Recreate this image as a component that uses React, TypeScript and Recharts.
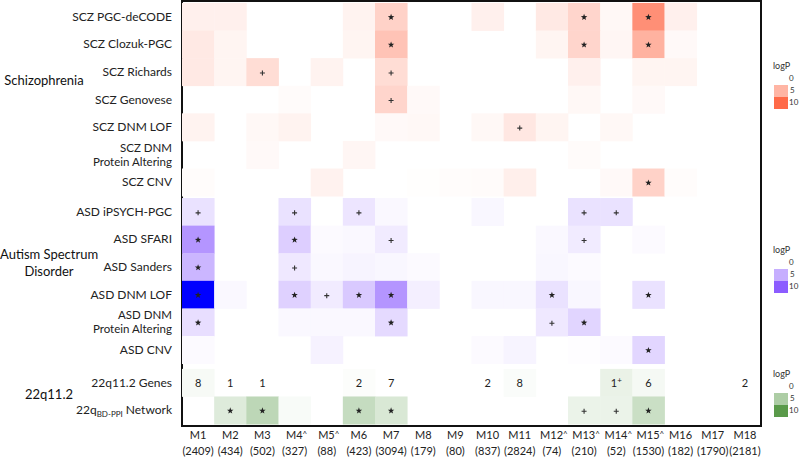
import React from "react";
import { ReferenceArea, Scatter, ScatterChart, XAxis, YAxis } from "recharts";

const FONT = "Lato, 'Liberation Sans', sans-serif";

// modules along the bottom
const modules = ["M1", "M2", "M3", "M4", "M5", "M6", "M7", "M8", "M9", "M10", "M11", "M12", "M13", "M14", "M15", "M16", "M17", "M18"];
const moduleCaret = [false, false, false, true, true, false, false, false, false, false, false, true, true, true, true, false, false, false];
const moduleSizes = [2409, 434, 502, 327, 88, 423, 3094, 179, 80, 837, 2824, 74, 210, 52, 1530, 182, 1790, 2181];

// gene sets (rows)
const rowLabels = [
  "SCZ PGC-deCODE",
  "SCZ Clozuk-PGC",
  "SCZ Richards",
  "SCZ Genovese",
  "SCZ DNM LOF",
  "SCZ DNM\nProtein Altering",
  "SCZ CNV",
  "ASD iPSYCH-PGC",
  "ASD SFARI",
  "ASD Sanders",
  "ASD DNM LOF",
  "ASD DNM\nProtein Altering",
  "ASD CNV",
  "22q11.2 Genes",
  "22qBD-PPI Network",
];
const rowGroups = ["scz", "scz", "scz", "scz", "scz", "scz", "scz", "asd", "asd", "asd", "asd", "asd", "asd", "q22", "q22"];
const groupNames = ["Schizophrenia", "Autism Spectrum\nDisorder", "22q11.2"];

// logP per module
const sczPgcDecode = [1, 1, 0, 0, 0, 0.8, 3, 0, 0, 1, 0, 1.5, 2.8, 0.5, 7.5, 1, 0, 0];
const sczClozuk = [1.5, 0.7, 0, 0, 0, 0.7, 4, 0, 0, 0, 0, 0.7, 2.8, 0.6, 5.2, 0.4, 0, 0];
const sczRichards = [1.5, 0.7, 2.3, 0, 0.8, 0, 2.3, 0, 0, 0, 0, 0, 1, 0, 0.7, 0.7, 0, 0];
const sczGenovese = [0, 0, 0, 0.3, 0, 0, 2.8, 0.4, 0, 0, 0, 0, 0.5, 0, 0.4, 0, 0, 0];
const sczDnmLof = [0.8, 0, 0.5, 0.8, 0, 0, 0.4, 0.5, 0, 0.5, 1.6, 0.7, 0, 0.5, 0, 0, 0, 0];
const sczDnmPa = [0, 0, 0.4, 0, 0, 0.6, 0, 0, 0, 0, 0, 0, 0.3, 0, 0, 0, 0, 0];
const sczCnv = [0.2, 0, 0, 0, 0.9, 0, 0, 0.1, 0.2, 0.3, 1.1, 0, 0, 0.4, 3, 0.2, 0, 0];
const asdIpsych = [1.8, 0, 0, 1.8, 0, 1.6, 0.4, 0, 0, 0.5, 0, 0, 1.8, 1.8, 0, 0, 0, 0];
const asdSfari = [6.5, 0, 0, 3, 0.3, 0.4, 1.2, 0, 0, 0, 0, 0.4, 1.2, 0, 0.3, 0, 0, 0];
const asdSanders = [4.5, 0, 0, 1.4, 0.4, 0.7, 0.5, 0.3, 0, 0, 0, 0.5, 0.3, 0, 0, 0, 0, 0];
const asdDnmLof = [14, 0.4, 0, 2.8, 1.2, 3.3, 6.5, 1, 0, 0.5, 0.5, 1.8, 0.5, 0, 1.8, 0, 0, 0];
const asdDnmPa = [2, 0, 0, 0.4, 0.4, 0.4, 2.3, 0, 0, 0, 0, 1.4, 2.6, 0, 0, 0, 0, 0];
const asdCnv = [0.3, 0, 0, 0, 0.8, 0, 0, 0, 0, 0.3, 0.7, 0, 0.1, 0.3, 2.5, 0, 0, 0];
const q22Genes = [0.5, 0, 0, 0, 0, 0.2, 0, 0, 0, 0, 0.3, 0, 0, 1.3, 0.6, 0, 0, 0];
const q22Network = [0, 2, 4, 0.4, 0, 3.5, 2.3, 0, 0, 0, 0, 0, 1.2, 1.2, 3.2, 0, 0, 0];

// significance marks: * or +
const rowMarks = [
  "......*.....*.*...",
  "......*.....*.*...",
  "..+...+...........",
  "......+...........",
  "..........+.......",
  "..................",
  "..............*...",
  "+..+.+......++....",
  "*..*..+.....+.....",
  "*..+..............",
  "*..*+**....*..*...",
  "*.....*....+*.....",
  "..............*...",
  "..................",
  ".**..**.....++*...",
];
const geneCounts = ["8", "1", "1", "", "", "2", "7", "", "", "2", "8", "", "", "1+", "6", "", "", "2"];

const rowValues = [
  sczPgcDecode, sczClozuk, sczRichards, sczGenovese, sczDnmLof, sczDnmPa, sczCnv,
  asdIpsych, asdSfari, asdSanders, asdDnmLof, asdDnmPa, asdCnv,
  q22Genes, q22Network,
];

const W = 800;
const H = 457;
const M = { top: 1, right: 39, bottom: 0, left: 0 };
const Y_AXIS_W = 182;
const X_AXIS_H = 31;
const Y_MAX = 15.4;
const CELL_W = (W - Y_AXIS_W - M.right) / modules.length;
const CELL_H = (H - M.top - X_AXIS_H) / Y_MAX;

const groupOffset: Record<string, number> = { scz: 0.07, asd: 0.14, q22: 0.33 };
const rowY = (i: number) => groupOffset[rowGroups[i]] + i + 0.5;

const ends: Record<string, string> = { scz: "#ff6a48", asd: "#8c5cff", q22: "#5a9a4a" };

const hex = (c: string) => [1, 3, 5].map((k) => parseInt(c.slice(k, k + 2), 16));
const mix = (a: string, b: string, t: number) => {
  const A = hex(a);
  const B = hex(b);
  return "rgb(" + A.map((v, k) => Math.round(v + (B[k] - v) * t)).join(",") + ")";
};
const cellColor = (group: string, v: number) => {
  if (v > 10) return mix(ends[group], "#0000ff", Math.min(1, (v - 10) / 4));
  return mix("#ffffff", ends[group], v / 10);
};

const cells = rowValues.flatMap((vals, r) =>
  vals.map((v, c) => ({
    x: c + 1,
    y: rowY(r),
    v,
    group: rowGroups[r],
    mark: rowMarks[r][c],
    count: r === 13 ? geneCounts[c] : "",
  }))
);

const starPath = (cx: number, cy: number, ro: number, ri: number) => {
  let d = "";
  for (let k = 0; k < 10; k++) {
    const r = k % 2 === 0 ? ro : ri;
    const a = -Math.PI / 2 + (k * Math.PI) / 5;
    d += (k === 0 ? "M" : "L") + (cx + r * Math.cos(a)).toFixed(2) + "," + (cy + r * Math.sin(a)).toFixed(2);
  }
  return d + "Z";
};

const HeatCell = (props: any) => {
  const { cx, cy, payload } = props;
  if (cx == null || cy == null) return null;
  const { v, group, mark, count } = payload;
  return (
    <g>
      {v > 0 && (
        <rect
          x={cx - CELL_W / 2}
          y={cy - CELL_H / 2}
          width={CELL_W + 0.4}
          height={CELL_H + 0.4}
          fill={cellColor(group, v)}
        />
      )}
      {mark === "*" && <path d={starPath(cx, cy + 0.5, 3.4, 1.4)} fill="#222" />}
      {mark === "+" && (
        <path d={`M${cx - 2.5},${cy + 1}H${cx + 2.5}M${cx},${cy - 1.5}V${cy + 3.5}`} stroke="#333" strokeWidth={1.1} />
      )}
      {count && (
        <text x={cx} y={cy + 4.5} textAnchor="middle" fontSize={11} fontFamily={FONT} fill="#222">
          {count.replace("+", "")}
          {count.includes("+") && (
            <tspan fontSize={8} dy={-4}>
              +
            </tspan>
          )}
        </text>
      )}
    </g>
  );
};

const XTick = (props: any) => {
  const { x, y, payload } = props;
  const i = payload.value - 1;
  if (i < 0 || i >= modules.length) return null;
  return (
    <g transform={`translate(${x},${y})`}>
      <text x={moduleCaret[i] ? 2 : 0} y={9} textAnchor="middle" fontSize={11} fill="#222" fontFamily={FONT}>
        {modules[i]}
        {moduleCaret[i] && (
          <tspan fontSize={8} dy={-2}>
            ^
          </tspan>
        )}
      </text>
      <text x={0} y={25} textAnchor="middle" fontSize={11} fill="#222" fontFamily={FONT}>
        {`(${moduleSizes[i]})`}
      </text>
    </g>
  );
};

const YTick = (props: any) => {
  const { x, y, payload } = props;
  const i = rowLabels.findIndex((_, k) => Math.abs(rowY(k) - payload.value) < 0.01);
  if (i < 0) return null;
  const lines = rowLabels[i].split("\n");
  const common = { textAnchor: "end" as const, fontSize: lines.length > 1 ? 11.5 : 12, fill: "#222", fontFamily: FONT };
  if (i === 14) {
    return (
      <text x={x} y={y + 4} {...common}>
        22q
        <tspan fontSize={8} dy={3}>
          BD-PPI
        </tspan>
        <tspan dy={-3}> Network</tspan>
      </text>
    );
  }
  return (
    <text x={x} y={y + 4 - (lines.length - 1) * 7} {...common}>
      {lines.map((l, k) => (
        <tspan key={k} x={x} dy={k === 0 ? 0 : 14}>
          {l}
        </tspan>
      ))}
    </text>
  );
};

const legendTops = [60, 244, 368];

const Legend = ({ top, group }: { top: number; group: string }) => (
  <div style={{ position: "absolute", left: 773, top, fontFamily: FONT, color: "#333", fontSize: 9, lineHeight: "12px" }}>
    <div>logP</div>
    <div style={{ position: "relative", height: 42 }}>
      <div style={{ position: "absolute", left: 16, top: 0, fontSize: 8 }}>0</div>
      <div style={{ position: "absolute", left: 1, top: 13, width: 14, height: 12, background: cellColor(group, 5) }} />
      <div style={{ position: "absolute", left: 1, top: 25, width: 14, height: 12, background: cellColor(group, 10) }} />
      <div style={{ position: "absolute", left: 17, top: 12, fontSize: 8 }}>5</div>
      <div style={{ position: "absolute", left: 16, top: 24, fontSize: 8 }}>10</div>
    </div>
  </div>
);

const groupLabelPos = [
  { top: 72, center: 44 },
  { top: 246, center: 49 },
  { top: 386, center: 49 },
];

export default function App() {
  return (
    <div style={{ position: "absolute", left: 0, top: 0, width: W, height: H, background: "#fff" }}>
      <ScatterChart width={W} height={H} margin={M}>
        <XAxis
          type="number"
          dataKey="x"
          domain={[0.5, 18.5]}
          ticks={modules.map((_, i) => i + 1)}
          interval={0}
          height={X_AXIS_H}
          axisLine={false}
          tickLine={false}
          tickSize={0}
          tickMargin={4}
          tick={<XTick />}
        />
        <YAxis
          type="number"
          dataKey="y"
          domain={[0, Y_MAX]}
          reversed
          ticks={rowLabels.map((_, i) => rowY(i))}
          interval={0}
          width={Y_AXIS_W}
          axisLine={false}
          tickLine={false}
          tickSize={0}
          tickMargin={10}
          tick={<YTick />}
        />
        <Scatter data={cells} shape={<HeatCell />} isAnimationActive={false} />
        <ReferenceArea x1={0.5} x2={18.5} y1={0} y2={Y_MAX} fill="none" stroke="#111" strokeWidth={2} ifOverflow="visible" />
      </ScatterChart>
      {groupNames.map((g, k) => (
        <div
          key={g}
          style={{
            position: "absolute",
            left: 0,
            width: groupLabelPos[k].center * 2,
            top: groupLabelPos[k].top,
            textAlign: "center",
            fontFamily: FONT,
            fontSize: 13,
            lineHeight: "17px",
            color: "#111",
            whiteSpace: "pre",
          }}
        >
          {g}
        </div>
      ))}
      {["scz", "asd", "q22"].map((g, k) => (
        <Legend key={g} group={g} top={legendTops[k]} />
      ))}
    </div>
  );
}
